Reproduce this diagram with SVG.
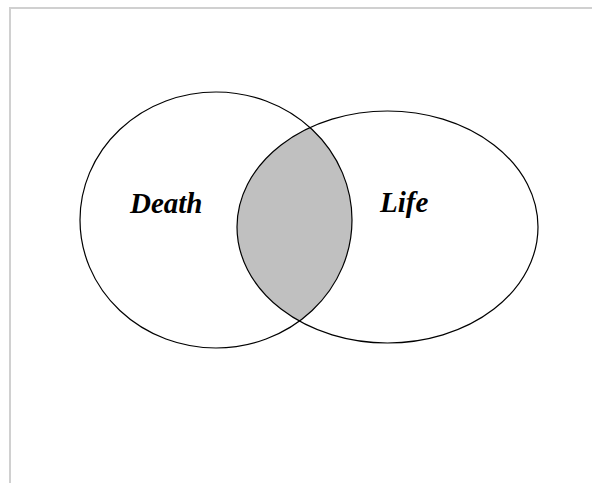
<svg xmlns="http://www.w3.org/2000/svg" width="592" height="483" viewBox="0 0 592 483">
<style>
.frame{stroke:#d0d0d0;stroke-width:2;fill:none}
.set{fill:none;stroke:#000;stroke-width:1.2}
.lbl{font-family:"Liberation Serif","Times New Roman",serif;font-weight:bold;font-style:italic;font-size:29px;fill:#000}
</style>
<defs>
<clipPath id="clipLeft"><ellipse cx="216" cy="220" rx="136" ry="128"/></clipPath>
</defs>
<rect width="592" height="483" fill="#fff"/>
<path class="frame" d="M10 483 V8 H592"/>
<g id="intersection"><ellipse cx="387.5" cy="227" rx="150.5" ry="116" fill="#c0c0c0" clip-path="url(#clipLeft)"/></g>
<g id="death"><ellipse class="set" cx="216" cy="220" rx="136" ry="128"/><text class="lbl" x="130" y="213">Death</text></g>
<g id="life"><ellipse class="set" cx="387.5" cy="227" rx="150.5" ry="116"/><text class="lbl" x="380" y="212">Life</text></g>
</svg>
